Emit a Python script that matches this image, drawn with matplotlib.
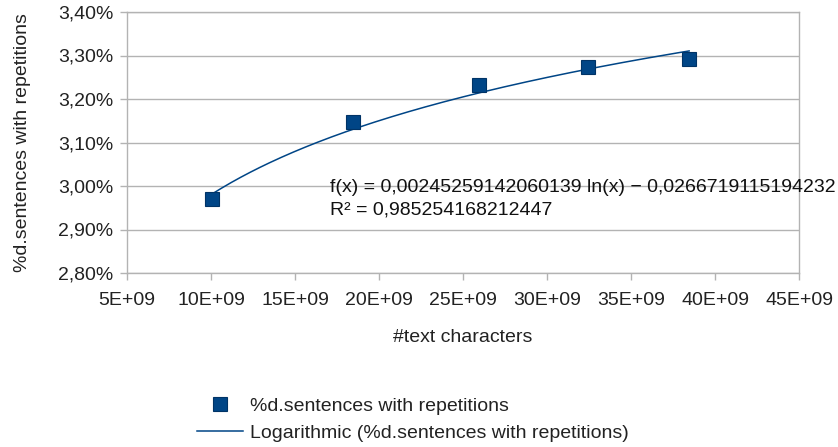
#!/usr/bin/env python
# -*- coding:utf-8 -*-

import numpy as np
import matplotlib
matplotlib.use('Agg')
import matplotlib.pyplot as plt
from matplotlib.ticker import FuncFormatter, MultipleLocator

# data
text_chars = [10.05e9, 18.46e9, 25.95e9, 32.43e9, 38.46e9]
pct_repeated = [0.02969, 0.03146, 0.03232, 0.03273, 0.03293]

# trendline coefficients (shown on the chart)
coef_a = 0.00245259142060139
coef_b = -0.0266719115194232
r2_text = "0,985254168212447"

series_name = "%d.sentences with repetitions"
blue = '#004586'
grey = '#b3b3b3'
fs = 14

plt.rcParams['font.family'] = ['Liberation Sans', 'DejaVu Sans']

fig = plt.figure(figsize=(8.38, 4.47), dpi=100)
ax = fig.add_axes([127 / 838, 1 - 273 / 447, (799 - 127) / 838, (273 - 12) / 447])

xs = np.array(text_chars)
xx = np.linspace(xs.min(), xs.max(), 200)
trend = coef_a * np.log(xx) + coef_b

ax.plot(xx, trend, color=blue, lw=1.1, zorder=3,
        label="Logarithmic (%s)" % series_name)
ax.plot(text_chars, pct_repeated, 's', color=blue, ms=10.5, mec='#003366',
        mew=0.8, ls='none', zorder=4, label=series_name)

ax.set_xlim(5e9, 45e9)
ax.set_ylim(0.028, 0.034)
ax.xaxis.set_major_locator(MultipleLocator(5e9))
ax.yaxis.set_major_locator(MultipleLocator(0.001))
ax.xaxis.set_major_formatter(FuncFormatter(lambda v, p: "%dE+09" % round(v / 1e9)))
ax.yaxis.set_major_formatter(FuncFormatter(lambda v, p: ("%.2f%%" % (v * 100)).replace('.', ',')))

ax.grid(True, axis='y', color=grey, lw=1.0)
ax.set_axisbelow(True)
for s in ax.spines.values():
    s.set_color(grey)
    s.set_linewidth(1.0)
ax.tick_params(axis='both', colors=grey, labelcolor='#222222', labelsize=fs,
               length=5, width=1.0)
ax.tick_params(axis='x', pad=9)
ax.tick_params(axis='y', pad=5)

ax.set_xlabel("#text characters", fontsize=fs, color='#222222', labelpad=14)
ax.set_ylabel(series_name, fontsize=fs, color='#222222', labelpad=19)

ax.text(330, 447 - 187, "f(x) = 0,00245259142060139 ln(x) \u2212 0,0266719115194232",
        transform=None, fontsize=fs, color='#111111', va='center', ha='left', zorder=5)
ax.text(330, 447 - 210, "R\u00b2 = %s" % r2_text,
        transform=None, fontsize=fs, color='#111111', va='center', ha='left', zorder=5)

handles, labels = ax.get_legend_handles_labels()
leg = fig.legend(handles[::-1], labels[::-1], loc='center left',
                 bbox_to_anchor=(197 / 838, 1 - 419.5 / 447), frameon=False,
                 fontsize=fs, handlelength=2.35, handletextpad=0.4,
                 labelspacing=0.5, borderpad=0, borderaxespad=0)
for t in leg.get_texts():
    t.set_color('#222222')

fig.savefig('out.png', dpi=100)
